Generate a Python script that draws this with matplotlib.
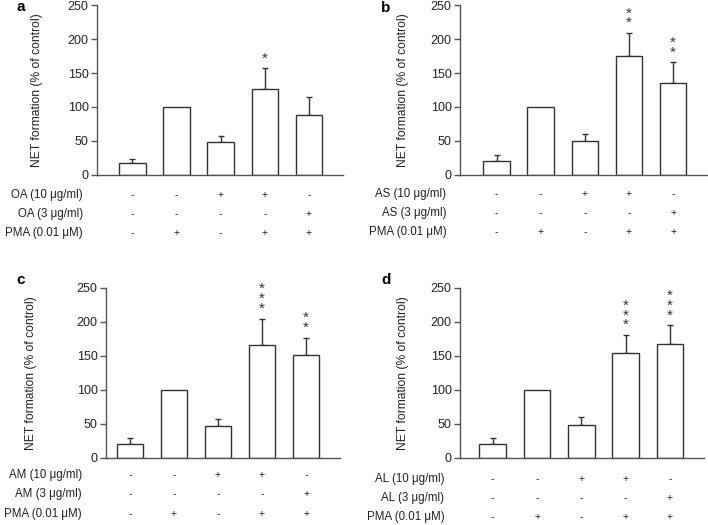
import numpy as np
import matplotlib
matplotlib.use("Agg")
import matplotlib.pyplot as plt

plt.rcParams['font.family'] = ['Liberation Sans', 'DejaVu Sans']

# panel data: means, upper error, significance
panels = ['a', 'b', 'c', 'd']
agents = ['OA', 'AS', 'AM', 'AL']
means = {
    'a': [17, 100, 49, 126, 88],
    'b': [20, 100, 50, 175, 135],
    'c': [21, 100, 47, 166, 152],
    'd': [21, 100, 48, 154, 167],
}
errs = {
    'a': [7, 0, 8, 31, 27],
    'b': [9, 0, 11, 34, 31],
    'c': [8, 0, 11, 39, 25],
    'd': [8, 0, 13, 27, 28],
}
stars = {
    'a': ['', '', '', '*', ''],
    'b': ['', '', '', '**', '**'],
    'c': ['', '', '', '***', '**'],
    'd': ['', '', '', '***', '***'],
}
high = ['-', '-', '+', '+', '-']
low = ['-', '-', '-', '-', '+']
pma = ['-', '+', '-', '+', '+']
yticks = [0, 50, 100, 150, 200, 250]

W, H = 708, 525
# axes boxes in pixels: left, right, top, bottom
boxes = {
    'a': (97, 343, 5, 175),
    'b': (460, 707, 5, 175),
    'c': (106, 340, 288, 458),
    'd': (460, 704, 288, 458),
}
xleft = {'a': -0.80, 'b': -0.83, 'c': -0.54, 'd': -0.74}
labx = {'a': -0.22, 'b': -0.206, 'c': -0.296, 'd': -0.209}
rowx = {'a': -0.058, 'b': -0.055, 'c': -0.104, 'd': -0.064}
rowy = {'a': [-0.118, -0.229, -0.341], 'b': [-0.112, -0.224, -0.335],
        'c': [-0.102, -0.214, -0.331], 'd': [-0.124, -0.235, -0.347]}
letpos = {'a': (21, 7), 'b': (386, 8), 'c': (21, 280), 'd': (386, 280)}

fig = plt.figure(figsize=(W / 100, H / 100), dpi=100)
axc = '#555555'
x = np.arange(5)

for p, ag in zip(panels, agents):
    l, r, t, b = boxes[p]
    ax = fig.add_axes([l / W, 1 - b / H, (r - l) / W, (b - t) / H])
    m = np.array(means[p])
    e = np.array(errs[p])
    ax.bar(x, m, width=0.6, color='white', edgecolor='#333333', linewidth=1.0, zorder=2)
    k = e > 0
    ax.errorbar(x[k], m[k], yerr=[np.zeros(k.sum()), e[k]], fmt='none', ecolor='#333333',
                elinewidth=1.0, capsize=2.5, capthick=1.0, zorder=1)
    for i in range(5):
        if stars[p][i]:
            txt = '\n'.join(stars[p][i])
            ax.text(x[i], m[i] + e[i] + 4, txt, ha='center', va='bottom',
                    fontsize=11, linespacing=0.62, color='#333333')
    ax.set_xlim(xleft[p], 4.77)
    ax.set_ylim(0, 250)
    ax.set_yticks(yticks)
    ax.set_xticks([])
    for s in ['top', 'right']:
        ax.spines[s].set_visible(False)
    for s in ['left', 'bottom']:
        ax.spines[s].set_color(axc)
        ax.spines[s].set_linewidth(1.0)
    ax.tick_params(axis='y', direction='out', length=4, width=1.0, color=axc,
                   labelsize=9, labelcolor='#222222', pad=2)
    ax.set_ylabel('NET formation (% of control)', fontsize=8.7, color='#222222')
    ax.yaxis.set_label_coords(labx[p], 0.5)

    rows = [(ag + ' (10 μg/ml)', high), (ag + ' (3 μg/ml)', low), ('PMA (0.01 μM)', pma)]
    tr = ax.get_xaxis_transform()
    for (name, signs), yy in zip(rows, rowy[p]):
        ax.text(rowx[p], yy, name, transform=ax.transAxes, ha='right', va='center',
                fontsize=8.3, color='#222222', clip_on=False)
        for i, s in enumerate(signs):
            ax.text(x[i], yy, s, transform=tr, ha='center', va='center',
                    fontsize=7.5, color='#222222', clip_on=False)

    lx, ly = letpos[p]
    fig.text(lx / W, 1 - ly / H, p, fontsize=11, fontweight='bold',
             ha='center', va='center')

fig.savefig('out.png', dpi=100)
